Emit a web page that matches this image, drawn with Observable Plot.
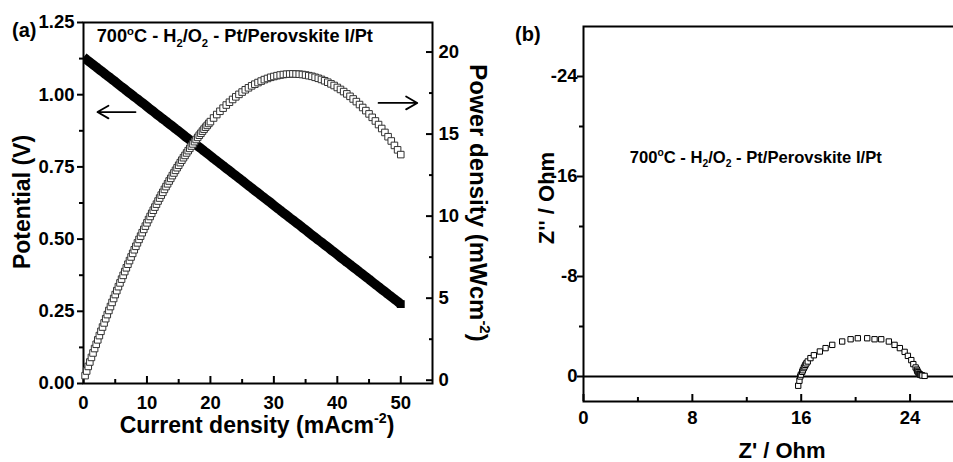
<!DOCTYPE html>
<html><head><meta charset="utf-8">
<script src="https://cdn.jsdelivr.net/npm/d3@7"></script>
<script src="https://cdn.jsdelivr.net/npm/@observablehq/plot@0.6"></script>
<style>
html,body{margin:0;padding:0;background:#fff;overflow:hidden;width:953px;height:462px}
#wrap{position:relative;width:953px;height:462px;overflow:hidden;background:#fff}
#wrap svg{position:absolute;top:0}
text{white-space:pre}
</style></head>
<body><div id="wrap"></div>
<script>
// ---------- Panel (a): I-V and I-P ----------
const potCurrent = [0,0.5,1,1.5,2,2.5,3,3.5,4,4.5,5,5.5,6,6.5,7,7.5,8,8.5,9,9.5,10,10.5,11,11.5,12,12.5,13,13.5,14,14.5,15,15.5,16,16.5,17,17.5,18,18.5,19,19.5,20,20.5,21,21.5,22,22.5,23,23.5,24,24.5,25,25.5,26,26.5,27,27.5,28,28.5,29,29.5,30,30.5,31,31.5,32,32.5,33,33.5,34,34.5,35,35.5,36,36.5,37,37.5,38,38.5,39,39.5,40,40.5,41,41.5,42,42.5,43,43.5,44,44.5,45,45.5,46,46.5,47,47.5,48,48.5,49,49.5,50];
const potential = [1.130,1.121,1.113,1.104,1.096,1.087,1.079,1.070,1.062,1.053,1.045,1.036,1.027,1.019,1.010,1.002,0.993,0.985,0.976,0.968,0.959,0.950,0.942,0.933,0.925,0.916,0.908,0.899,0.891,0.882,0.874,0.865,0.856,0.848,0.839,0.831,0.822,0.814,0.805,0.797,0.788,0.779,0.771,0.762,0.754,0.745,0.737,0.728,0.720,0.711,0.703,0.694,0.685,0.677,0.668,0.660,0.651,0.643,0.634,0.626,0.617,0.608,0.600,0.591,0.583,0.574,0.566,0.557,0.549,0.540,0.532,0.523,0.514,0.506,0.497,0.489,0.480,0.472,0.463,0.455,0.446,0.437,0.429,0.420,0.412,0.403,0.395,0.386,0.378,0.369,0.361,0.352,0.343,0.335,0.326,0.318,0.309,0.301,0.292,0.284,0.275];
const powCurrent = [0.25,0.5,0.75,1,1.25,1.5,1.75,2,2.25,2.5,2.75,3,3.25,3.5,3.75,4,4.25,4.5,4.75,5,5.25,5.5,5.75,6,6.25,6.5,6.75,7,7.25,7.5,7.75,8,8.25,8.5,8.75,9,9.25,9.5,9.75,10,10.25,10.5,10.75,11,11.25,11.5,11.75,12,12.25,12.5,12.75,13,13.25,13.5,13.75,14,14.25,14.5,14.75,15,15.25,15.5,15.75,16,16.25,16.5,16.75,17,17.25,17.5,17.75,18,18.25,18.5,18.75,19,19.25,19.5,19.75,20,20.5,21,21.5,22,22.5,23,23.5,24,24.5,25,25.5,26,26.5,27,27.5,28,28.5,29,29.5,30,30.5,31,31.5,32,32.5,33,33.5,34,34.5,35,35.5,36,36.5,37,37.5,38,38.5,39,39.5,40,40.5,41,41.5,42,42.5,43,43.5,44,44.5,45,45.5,46,46.5,47,47.5,48,48.5,49,49.5,50];
const powerDensity = [0.28,0.56,0.84,1.11,1.39,1.66,1.93,2.19,2.46,2.72,2.98,3.24,3.49,3.75,4.00,4.25,4.49,4.74,4.98,5.22,5.46,5.70,5.93,6.16,6.39,6.62,6.85,7.07,7.29,7.51,7.73,7.95,8.16,8.37,8.58,8.78,8.99,9.19,9.39,9.59,9.79,9.98,10.17,10.36,10.55,10.73,10.92,11.10,11.28,11.45,11.63,11.80,11.97,12.14,12.30,12.47,12.63,12.79,12.95,13.10,13.26,13.41,13.56,13.70,13.85,13.99,14.13,14.27,14.40,14.54,14.67,14.80,14.93,15.05,15.18,15.30,15.42,15.53,15.65,15.76,15.98,16.19,16.39,16.58,16.77,16.94,17.11,17.27,17.42,17.56,17.70,17.82,17.94,18.04,18.14,18.23,18.32,18.39,18.46,18.51,18.56,18.60,18.63,18.65,18.66,18.67,18.66,18.65,18.63,18.60,18.56,18.52,18.46,18.40,18.33,18.25,18.16,18.06,17.96,17.84,17.72,17.59,17.45,17.30,17.14,16.98,16.80,16.62,16.43,16.23,16.02,15.80,15.58,15.34,15.10,14.84,14.58,14.31,14.04,13.75];
const currentTicks = [0,10,20,30,40,50];
const currentMinor = [5,15,25,35,45];
const potTicks = [0,0.25,0.5,0.75,1.0,1.25];
const potMinor = [0.125,0.375,0.625,0.875,1.125];
const powTicks = [0,5,10,15,20];
const powMinor = [2.5,7.5,12.5,17.5];

// ---------- Panel (b): Nyquist ----------
const zReal = [15.78,15.87,15.93,15.98,16.07,16.12,16.19,16.25,16.31,16.38,16.48,16.68,16.93,17.37,17.79,18.28,19.01,19.63,20.16,20.85,21.39,21.88,22.44,22.86,23.25,23.60,23.84,24.09,24.24,24.41,24.50,24.53,24.58,24.65,24.70,24.75,24.83,24.90,25.07];
const zImag = [0.74,0.34,0.00,-0.15,-0.37,-0.50,-0.67,-0.80,-0.93,-1.05,-1.20,-1.47,-1.70,-2.00,-2.27,-2.53,-2.80,-2.98,-3.06,-3.06,-2.98,-2.98,-2.80,-2.53,-2.27,-1.97,-1.65,-1.31,-0.99,-0.72,-0.55,-0.45,-0.35,-0.24,-0.18,-0.14,-0.11,-0.08,-0.05];
const zTicks = [0,8,16,24];
const zMinor = [4,12,20];
const zImTicks = [0,-8,-16,-24];
const zImMinor = [-4,-12,-20];

// Annotations (data units)
const arrowPot = [{x1:8.2, x2:2.2, y:0.94}];
const arrowPow = [{x1:46.5, x2:52.6, y:16.9}];

const FONT = "'Liberation Sans', Arial, Helvetica, sans-serif";
const baseStyle = {fontFamily: FONT, fontWeight: "bold", fontSize: "18px", background: "transparent", color: "black", overflow: "visible"};

const potRows = potCurrent.map((c,i)=>({i:c, v:potential[i]})).filter(d=>d.v!=null);
const powRows = powCurrent.map((c,i)=>({i:c, p:powerDensity[i]})).filter(d=>d.p!=null);
const nyq = zReal.map((r,i)=>({re:r, im:zImag[i]}));
const blank = () => "";
const TF = 18.5;

const mA = {width:500, height:462, marginLeft:83, marginRight:68, marginTop:22, marginBottom:79};

const plotA = Plot.plot({
  ...mA, style: baseStyle,
  x: {domain:[0,55]}, y: {domain:[0,1.25]},
  marks: [
    Plot.line(potRows, {x:"i", y:"v", stroke:"black", strokeWidth:9.5, strokeLinecap:"butt", clip:true}),
    Plot.dot(potRows.slice(-1), {x:"i", y:"v", symbol:"square", r:3.6, fill:"black", stroke:"black"}),
    Plot.frame({strokeWidth:2}),
    Plot.axisX({ticks:currentTicks, tickSize:0, tickPadding:12, fontSize:TF, label:null, tickFormat:d=>String(d)}),
    Plot.axisX({ticks:currentTicks, tickSize:-7, strokeWidth:2, label:null, tickFormat:blank}),
    Plot.axisX({ticks:currentMinor, tickSize:-4, strokeWidth:2, label:null, tickFormat:blank}),
    Plot.axisY({ticks:potTicks, tickSize:6, strokeWidth:2, tickPadding:3, fontSize:TF, label:null, tickFormat:d=>d.toFixed(2)}),
    Plot.axisY({ticks:potMinor, tickSize:4, strokeWidth:2, label:null, tickFormat:blank}),
    Plot.arrow(arrowPot, {x1:"x1", x2:"x2", y1:"y", y2:"y", strokeWidth:1.8, headLength:12, stroke:"black"})
  ]
});

const plotB = Plot.plot({
  ...mA, style: baseStyle,
  x: {domain:[0,55], axis:null}, y: {domain:[-0.2,21.8]},
  marks: [
    Plot.dot(powRows, {x:"i", y:"p", symbol:"square", r:3.7, fill:"white", stroke:"#333", strokeWidth:1}),
    Plot.axisY({anchor:"right", ticks:powTicks, tickSize:0, tickPadding:6, fontSize:TF, label:null, tickFormat:d=>String(d)}),
    Plot.axisY({anchor:"right", ticks:powTicks, tickSize:-7, strokeWidth:2, label:null, tickFormat:blank}),
    Plot.axisY({anchor:"right", ticks:powMinor, tickSize:-4, strokeWidth:2, label:null, tickFormat:blank}),
    Plot.arrow(arrowPow, {x1:"x1", x2:"x2", y1:"y", y2:"y", strokeWidth:1.8, headLength:12, stroke:"black"})
  ]
});

const plotC = Plot.plot({
  width:464, height:462, marginLeft:83, marginRight:0, marginTop:26, marginBottom:61,
  style: baseStyle,
  x: {domain:[0,28]}, y: {domain:[2,-28]},
  marks: [
    Plot.ruleY([0], {strokeWidth:2}),
    Plot.dot(nyq, {x:"re", y:"im", symbol:"square", r:3.0, fill:"white", stroke:"black", strokeWidth:1}),
    Plot.frame({strokeWidth:2}),
    Plot.axisX({ticks:zTicks, tickSize:0, tickPadding:9, fontSize:TF, label:null, tickFormat:d=>String(d)}),
    Plot.axisX({ticks:zTicks, tickSize:-7, strokeWidth:2, label:null, tickFormat:blank}),
    Plot.axisX({ticks:zMinor, tickSize:-4, strokeWidth:2, label:null, tickFormat:blank}),
    Plot.axisY({ticks:zImTicks, tickSize:0, tickPadding:6, fontSize:TF, label:null, tickFormat:d=>String(d)}),
    Plot.axisY({ticks:zImTicks, tickSize:6, strokeWidth:2, label:null, tickFormat:blank}),
    Plot.axisY({ticks:zImMinor, tickSize:4, strokeWidth:2, label:null, tickFormat:blank})
  ]
});

const wrap = document.getElementById("wrap");
plotA.style.left = "0px"; plotB.style.left = "0px"; plotC.style.left = "500px";
wrap.append(plotA, plotB, plotC);

// rich text helper: parts = [[text, kind]] kind: "" (normal), sup, sub
function rich(svg, x, y, size, parts, opts = {}) {
  const t = d3.select(svg).append("text")
    .attr("x", x).attr("y", y)
    .attr("font-family", FONT).attr("font-weight", "bold").attr("font-size", size)
    .attr("fill", "black").attr("text-anchor", opts.anchor || "start");
  if (opts.rotate) t.attr("transform", `rotate(${opts.rotate} ${x} ${y})`);
  let shift = 0;
  for (const [s, kind] of parts) {
    const ts = t.append("tspan").text(s);
    let target = 0, fs = size;
    if (kind === "sup") { target = -0.42 * size; fs = size * 0.62; }
    if (kind === "sub") { target = 0.28 * size; fs = size * 0.62; }
    ts.attr("font-size", fs).attr("dy", target - shift);
    shift = target;
  }
  return t;
}

const sA = plotA.scale("x"), yA = plotA.scale("y");
const sC = plotC.scale("x"), yC = plotC.scale("y");
const label = [["700",""],["o","sup"],["C - H",""],["2","sub"],["/O",""],["2","sub"],[" - Pt/Perovskite I/Pt",""]];

rich(plotA, sA.apply(2.16), yA.apply(1.18), 18.2, label);
rich(plotA, 12, 37, 20, [["(a)",""]]);
rich(plotA, 30, 202, 23, [["Potential (V)",""]], {anchor:"middle", rotate:-90});
rich(plotA, 257, 433, 23, [["Current density (mAcm",""],["-2","sup"],[")",""]], {anchor:"middle"});
rich(plotB, 470, 203, 24, [["Power density (mWcm",""],["-2","sup"],[")",""]], {anchor:"middle", rotate:90});

rich(plotC, sC.apply(3.44), yC.apply(-17.08), 16.6, label);
rich(plotC, 15, 41, 20, [["(b)",""]]);
rich(plotC, 54, 198, 22, [["Z'' / Ohm",""]], {anchor:"middle", rotate:-90});
rich(plotC, 282, 458, 22, [["Z' / Ohm",""]], {anchor:"middle"});
</script>
</body></html>
